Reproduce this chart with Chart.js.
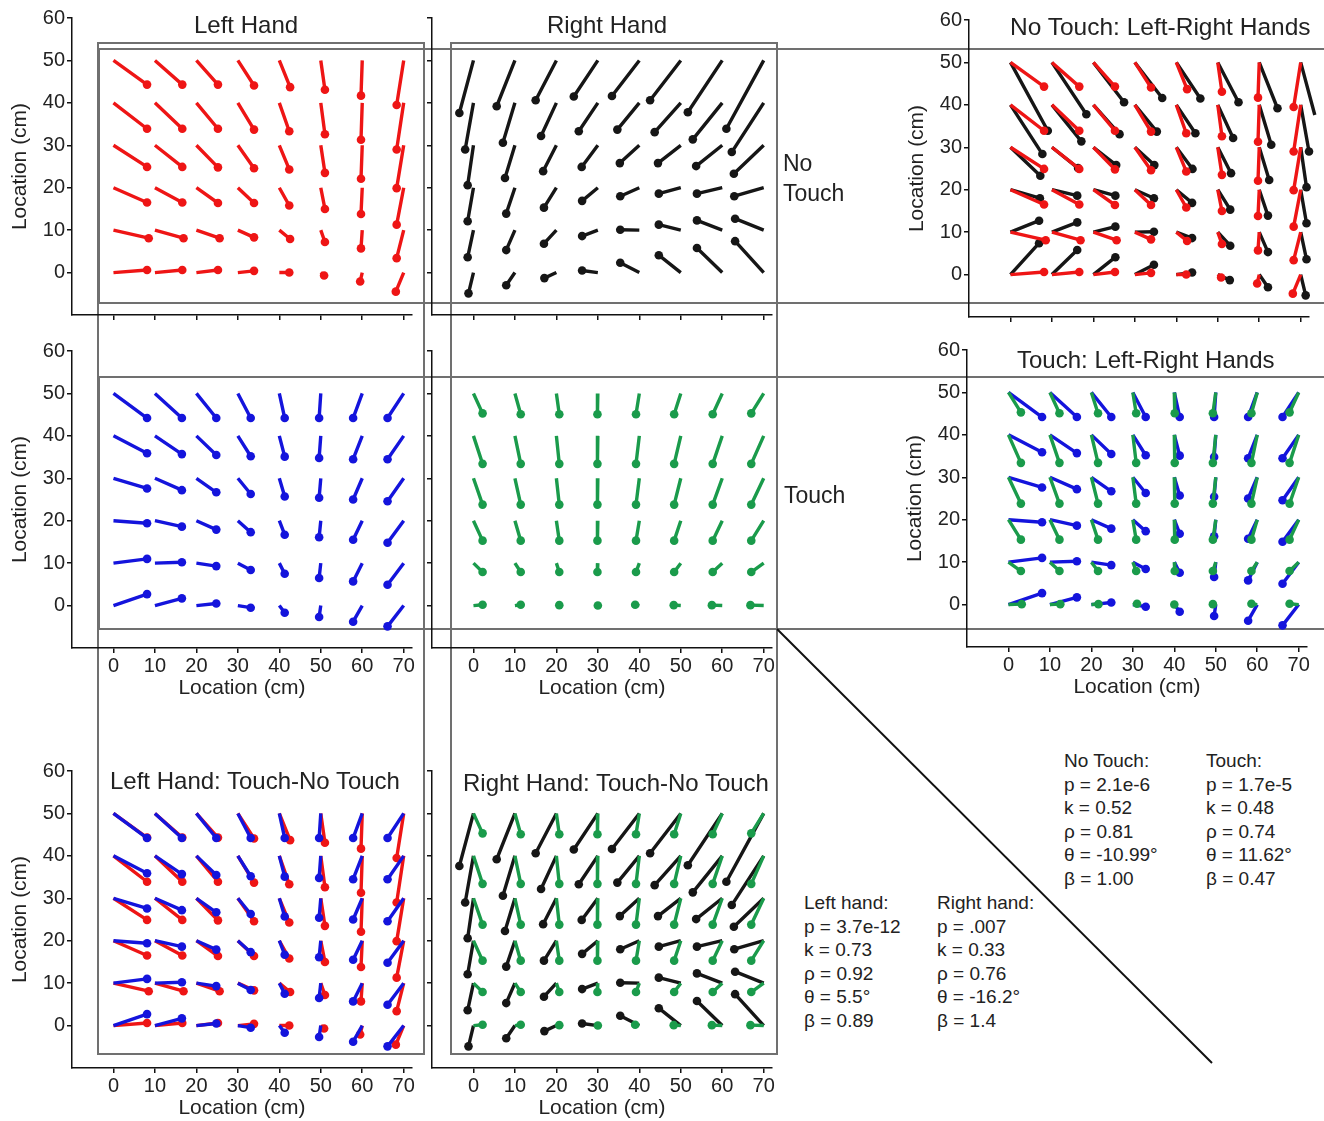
<!DOCTYPE html>
<html>
<head>
<meta charset="utf-8">
<script src="https://cdn.jsdelivr.net/npm/chart.js@4.4.0/dist/chart.umd.min.js"></script>
<style>
  body { margin: 0; background: #fff; width: 1324px; height: 1121px; position: relative; overflow: hidden;
         font-family: "Liberation Sans", Arial, sans-serif; color: #222; }
  canvas { position: absolute; z-index: 1; }
  #frames { position: absolute; left: 0; top: 0; z-index: 0; }
  .lbl { position: absolute; white-space: nowrap; line-height: 1; z-index: 2; }
  .ttl { font-size: 24px; }
  .side { font-size: 23px; line-height: 30px; }
  .stats { position: absolute; font-size: 19px; line-height: 23.6px; white-space: nowrap; z-index: 2; }
</style>
</head>
<body>

<svg id="frames" width="1324" height="1121">
  <g fill="none" stroke="#707070" stroke-width="2">
    <rect x="98" y="43" width="326" height="1011"/>
    <rect x="451" y="43" width="326" height="1011"/>
    <rect x="99" y="49" width="1240" height="254"/>
    <rect x="99" y="377" width="1240" height="252"/>
  </g>
  <line x1="777" y1="629" x2="1212" y2="1063" stroke="#111" stroke-width="2"/>
</svg>

<div class="lbl ttl" style="left:194px;top:13px">Left Hand</div>
<div class="lbl ttl" style="left:547px;top:13px">Right Hand</div>
<div class="lbl ttl" style="left:1010px;top:15px;font-size:24.5px">No Touch: Left-Right Hands</div>
<div class="lbl ttl" style="left:1017px;top:348px">Touch: Left-Right Hands</div>
<div class="lbl ttl" style="left:110px;top:769px">Left Hand: Touch-No Touch</div>
<div class="lbl ttl" style="left:463px;top:771px">Right Hand: Touch-No Touch</div>

<div class="lbl side" style="left:783px;top:148px">No<br>Touch</div>
<div class="lbl side" style="left:784px;top:480px">Touch</div>

<div class="stats" style="left:804px;top:891px">Left hand:<br>p = 3.7e-12<br>k = 0.73<br>ρ = 0.92<br>θ = 5.5°<br>β = 0.89</div>
<div class="stats" style="left:937px;top:891px">Right hand:<br>p = .007<br>k = 0.33<br>ρ = 0.76<br>θ = -16.2°<br>β = 1.4</div>
<div class="stats" style="left:1064px;top:749px">No Touch:<br>p = 2.1e-6<br>k = 0.52<br>ρ = 0.81<br>θ = -10.99°<br>β = 1.00</div>
<div class="stats" style="left:1206px;top:749px">Touch:<br>p = 1.7e-5<br>k = 0.48<br>ρ = 0.74<br>θ = 11.62°<br>β = 0.47</div>

<script>
// grid of start locations (cm)
const gridX = [0, 10, 20, 30, 40, 50, 60, 70];
const gridY = [50, 40, 30, 20, 10, 0];
const xTicks = [0, 10, 20, 30, 40, 50, 60, 70];
const yTicks = [0, 10, 20, 30, 40, 50, 60];

// end points of each vector, rows y = 50 ... 0, columns x = 0 ... 70
// left hand, no touch (red)
const leftNoTouchX = [
  [8.1, 16.6, 25.2, 33.9, 42.6, 51.0, 59.7, 68.3],
  [8.1, 16.6, 25.2, 33.9, 42.4, 51.0, 59.7, 68.3],
  [8.1, 16.6, 25.2, 33.9, 42.4, 51.0, 59.7, 68.3],
  [8.1, 16.6, 25.2, 33.9, 42.4, 51.0, 59.7, 68.3],
  [8.5, 16.9, 25.6, 33.9, 42.6, 51.0, 59.7, 68.3],
  [8.1, 16.6, 25.2, 33.9, 42.4, 50.8, 59.5, 68.1]
];
const leftNoTouchY = [
  [44.3, 44.3, 44.3, 44.1, 43.7, 43.1, 41.7, 39.5],
  [33.9, 33.9, 33.9, 33.7, 33.3, 32.6, 31.3, 29.0],
  [24.9, 24.9, 24.8, 24.6, 24.3, 23.5, 22.1, 19.9],
  [16.5, 16.5, 16.4, 16.4, 15.8, 15.0, 13.8, 11.3],
  [8.1, 8.1, 8.1, 8.3, 7.9, 7.2, 5.7, 3.4],
  [0.6, 0.6, 0.6, 0.4, 0.0, -0.7, -2.1, -4.5]
];
// right hand, no touch (black)
const rightNoTouchX = [
  [-3.4, 5.6, 15.0, 24.2, 33.4, 42.6, 51.7, 61.0],
  [-2.0, 7.1, 16.3, 25.4, 34.7, 43.7, 52.9, 62.3],
  [-1.4, 7.6, 16.8, 26.1, 35.3, 44.5, 53.7, 62.8],
  [-1.4, 7.9, 17.0, 26.2, 35.4, 44.7, 53.9, 62.9],
  [-1.4, 7.9, 17.0, 26.2, 35.4, 44.7, 53.9, 63.1],
  [-1.2, 7.9, 17.1, 26.2, 35.4, 44.7, 53.9, 63.1]
];
const rightNoTouchY = [
  [37.6, 39.2, 40.6, 41.5, 41.6, 40.6, 37.8, 33.9],
  [29.0, 30.6, 32.2, 33.3, 33.7, 33.1, 31.4, 28.4],
  [20.6, 22.3, 23.9, 24.9, 25.8, 25.8, 25.1, 23.3],
  [12.1, 13.9, 15.3, 16.9, 18.0, 18.6, 18.6, 18.0],
  [3.6, 5.3, 6.8, 8.6, 10.1, 11.3, 12.3, 12.7],
  [-4.9, -3.0, -1.3, 0.5, 2.3, 4.1, 5.8, 7.4]
];
// left hand, touch (blue)
const leftTouchX = [
  [8.1, 16.5, 24.8, 33.1, 41.3, 49.6, 57.8, 66.1],
  [8.1, 16.5, 24.8, 33.1, 41.3, 49.6, 57.8, 66.1],
  [8.1, 16.5, 24.8, 33.1, 41.3, 49.6, 57.8, 66.1],
  [8.1, 16.5, 24.8, 33.1, 41.3, 49.6, 57.8, 66.1],
  [8.1, 16.5, 24.8, 33.1, 41.3, 49.6, 57.8, 66.1],
  [8.1, 16.5, 24.8, 33.1, 41.3, 49.6, 57.8, 66.1]
];
const leftTouchY = [
  [44.2, 44.2, 44.2, 44.2, 44.2, 44.2, 44.2, 44.2],
  [35.9, 35.7, 35.5, 35.2, 35.1, 34.8, 34.5, 34.5],
  [27.6, 27.2, 26.7, 26.3, 25.7, 25.4, 25.0, 24.6],
  [19.4, 18.6, 17.9, 17.3, 16.7, 16.1, 15.5, 14.8],
  [11.0, 10.2, 9.3, 8.4, 7.5, 6.5, 5.7, 4.9],
  [2.7, 1.7, 0.5, -0.5, -1.7, -2.7, -3.8, -4.9]
];
// right hand, touch (green)
const rightTouchX = [
  [2.2, 11.4, 20.7, 29.9, 39.2, 48.4, 57.7, 67.0],
  [2.2, 11.4, 20.7, 29.9, 39.2, 48.4, 57.7, 67.0],
  [2.2, 11.4, 20.7, 29.9, 39.2, 48.4, 57.7, 67.0],
  [2.2, 11.4, 20.7, 29.9, 39.2, 48.4, 57.7, 67.0],
  [2.2, 11.4, 20.7, 29.9, 39.2, 48.4, 57.7, 67.0],
  [2.2, 11.4, 20.7, 30.0, 39.0, 48.3, 57.5, 66.8]
];
const rightTouchY = [
  [45.3, 45.1, 45.1, 45.1, 45.1, 45.1, 45.1, 45.3],
  [33.4, 33.4, 33.4, 33.4, 33.4, 33.4, 33.4, 33.4],
  [23.8, 23.8, 23.8, 23.8, 23.8, 23.8, 23.8, 23.8],
  [15.3, 15.3, 15.3, 15.3, 15.3, 15.3, 15.3, 15.3],
  [7.9, 7.9, 7.9, 7.9, 7.9, 7.9, 7.9, 7.9],
  [0.2, 0.2, 0.1, 0.0, 0.2, 0.1, 0.1, 0.1]
];

const RED = '#ee1515', BLACK = '#161616', BLUE = '#1414dc', GREEN = '#1a9b4b';

// start -> end pairs, broken by a gap; mirror flips the right hand onto the left for comparison
function vectors(endX, endY, mirror) {
  const pts = [];
  gridY.forEach((gy, r) => {
    gridX.forEach((gx, c) => {
      let x0 = gx, x1 = endX[r][c];
      if (mirror) { x0 = 70 - x0; x1 = 70 - x1; }
      pts.push({ x: x0, y: gy }, { x: x1, y: endY[r][c] }, { x: NaN, y: NaN });
    });
  });
  return pts;
}

function series(pts, color) {
  return {
    data: pts,
    showLine: true,
    spanGaps: false,
    clip: false,
    borderColor: color,
    backgroundColor: color,
    borderWidth: 3.4,
    pointBorderWidth: 0,
    pointRadius: c => (c.dataIndex % 3 === 1 ? 4.3 : 0),
    pointHoverRadius: 0
  };
}

const AREA_W = 340, AREA_H = 297, PAD_T = 14, PAD_R = 20, X_H = 58;
const tickFont = { family: 'Liberation Sans, Arial, sans-serif', size: 20 };
const titleFont = { family: 'Liberation Sans, Arial, sans-serif', size: 21 };

// left/top = page position of x=-10 and y=60
function panel(left, top, yLabels, xLabels, datasets) {
  const yW = yLabels ? 72 : 8;
  const cv = document.createElement('canvas');
  cv.width = yW + AREA_W + PAD_R;
  cv.height = PAD_T + AREA_H + X_H;
  cv.style.left = (left - yW) + 'px';
  cv.style.top = (top - PAD_T) + 'px';
  document.body.appendChild(cv);

  new Chart(cv.getContext('2d'), {
    type: 'scatter',
    data: { datasets: datasets },
    options: {
      responsive: false,
      animation: false,
      devicePixelRatio: 1,
      layout: { padding: { top: PAD_T, right: PAD_R, left: 0, bottom: 0 } },
      plugins: { legend: { display: false }, tooltip: { enabled: false } },
      events: [],
      scales: {
        x: {
          type: 'linear', min: -10, max: 72,
          afterBuildTicks: s => { s.ticks = xTicks.map(v => ({ value: v })); },
          afterFit: s => { s.height = X_H; },
          grid: { drawOnChartArea: false, drawTicks: true, tickLength: 5, color: '#111', lineWidth: 1.5 },
          border: { display: true, color: '#111', width: 1.5 },
          ticks: { display: xLabels, color: '#222', font: tickFont, padding: 1, maxRotation: 0 },
          title: { display: xLabels, text: 'Location (cm)', color: '#222', font: titleFont, padding: { top: 0, bottom: 5 } }
        },
        y: {
          type: 'linear', min: -10, max: 60,
          afterBuildTicks: s => { s.ticks = yTicks.map(v => ({ value: v })); },
          afterFit: s => { s.width = yW; },
          grid: { drawOnChartArea: false, drawTicks: true, tickLength: 5, color: '#111', lineWidth: 1.5 },
          border: { display: true, color: '#111', width: 1.5 },
          ticks: { display: yLabels, color: '#222', font: tickFont, padding: 2 },
          title: { display: yLabels, text: 'Location (cm)', color: '#222', font: titleFont, padding: { top: 8, bottom: 0 } }
        }
      }
    }
  });
}

const redNo = vectors(leftNoTouchX, leftNoTouchY, false);
const blackNo = vectors(rightNoTouchX, rightNoTouchY, false);
const blackNoMirror = vectors(rightNoTouchX, rightNoTouchY, true);
const blueT = vectors(leftTouchX, leftTouchY, false);
const greenT = vectors(rightTouchX, rightTouchY, false);
const greenTMirror = vectors(rightTouchX, rightTouchY, true);

// first dataset is drawn on top
panel(72, 18, true, false, [series(redNo, RED)]);
panel(432, 18, false, false, [series(blackNo, BLACK)]);
panel(969, 20, true, false, [series(redNo, RED), series(blackNoMirror, BLACK)]);

panel(72, 351, true, true, [series(blueT, BLUE)]);
panel(432, 351, false, true, [series(greenT, GREEN)]);
panel(967, 350, true, true, [series(greenTMirror, GREEN), series(blueT, BLUE)]);

panel(72, 771, true, true, [series(blueT, BLUE), series(redNo, RED)]);
panel(432, 771, false, true, [series(greenT, GREEN), series(blackNo, BLACK)]);
</script>
</body>
</html>
